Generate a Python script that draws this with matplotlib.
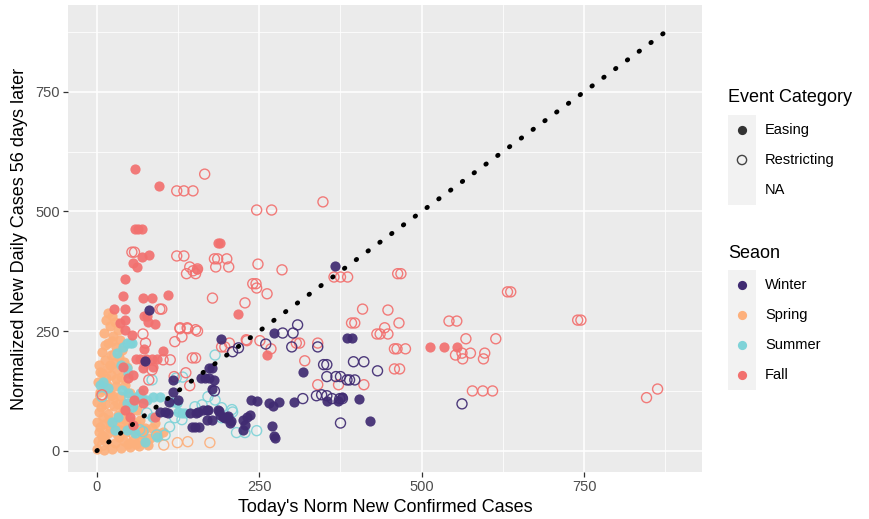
import numpy as np
import matplotlib
matplotlib.use("Agg")
import matplotlib.pyplot as plt
from matplotlib.patches import Rectangle

plt.rcParams['font.family'] = ['Liberation Sans', 'DejaVu Sans']

# (today's cases, cases 56 days later) per season / event category
spring_easing = [(17, 288), (23, 282), (14, 273), (28, 269), (20, 261), (32, 253), (11, 246), (25, 240),
                 (35, 232), (17, 225), (29, 217), (38, 211), (8, 207), (22, 200), (34, 196), (12, 190),
                 (26, 184), (42, 186), (3, 180), (17, 173), (31, 169), (46, 175), (8, 163), (22, 159),
                 (37, 154), (2, 144), (15, 138), (29, 136), (43, 138), (5, 123), (20, 119), (35, 115),
                 (51, 121), (0, 102), (12, 98), (26, 94), (40, 98), (55, 102), (3, 81), (17, 77),
                 (32, 75), (46, 81), (62, 86), (0, 60), (11, 56), (25, 54), (38, 58), (52, 63),
                 (66, 65), (3, 40), (17, 38), (31, 35), (45, 40), (58, 42), (72, 44), (85, 48),
                 (2, 21), (14, 19), (28, 17), (42, 21), (55, 23), (69, 25), (82, 27), (94, 31),
                 (0, 4), (11, 2), (23, 4), (37, 6), (51, 8), (65, 10), (78, 12), (102, 40),
                 (89, 58), (74, 48), (92, 38), (5, 50), (9, 71), (6, 92), (23, 117), (14, 152),
                 (32, 98), (18, 65), (35, 44), (9, 29), (48, 15), (8, 30), (20, 48), (34, 28),
                 (48, 52), (60, 55), (40, 85), (25, 108), (10, 130), (30, 150), (20, 180), (12, 220),
                 (24, 230), (5, 165), (45, 65), (60, 15), (70, 35)]
spring_restricting = [(6, 115), (20, 96), (38, 69), (11, 27), (58, 31), (9, 12), (103, 12), (124, 17),
                      (140, 19), (174, 17), (45, 150), (28, 200)]
summer_easing = [(46, 225), (54, 225), (51, 225), (40, 217), (31, 205), (37, 180), (46, 173), (9, 144),
                 (5, 138), (38, 127), (48, 121), (62, 113), (69, 111), (77, 106), (46, 100), (54, 92),
                 (32, 71), (23, 60), (28, 44), (46, 44), (58, 38), (85, 71), (92, 29), (74, 19),
                 (48, 163), (66, 121), (86, 113), (97, 113), (123, 100), (131, 79), (135, 79), (125, 81),
                 (115, 102), (17, 131)]
summer_restricting = [(85, 148), (122, 152), (132, 154), (151, 92), (171, 113), (182, 106), (209, 81),
                      (215, 38), (228, 38), (246, 42), (182, 200), (120, 69), (105, 33), (92, 33),
                      (112, 50), (51, 111), (55, 92), (77, 79), (66, 44), (71, 40), (8, 113), (131, 65),
                      (192, 69), (162, 96), (192, 90), (208, 86)]
fall_easing = [(58, 589), (95, 553), (58, 463), (63, 463), (69, 463), (69, 405), (80, 409), (55, 392),
               (62, 384), (154, 380), (43, 359), (40, 324), (71, 319), (85, 319), (109, 326), (26, 296),
               (43, 296), (72, 282), (78, 269), (89, 265), (35, 267), (43, 273), (186, 434), (190, 434),
               (217, 286), (512, 217), (534, 217), (555, 217), (262, 200), (43, 252), (54, 242),
               (72, 213), (60, 192), (66, 192), (75, 192), (85, 192), (92, 192), (102, 209), (40, 175),
               (56, 159), (71, 173), (86, 175), (71, 127), (57, 106), (89, 71), (56, 54), (48, 152),
               (43, 86), (71, 100), (51, 71), (77, 282)]
fall_restricting = [(166, 578), (123, 543), (134, 543), (148, 543), (54, 415), (58, 415), (123, 407),
                    (134, 407), (138, 370), (143, 384), (148, 376), (152, 370), (155, 380), (181, 401),
                    (186, 401), (200, 401), (183, 384), (203, 384), (178, 319), (97, 296), (100, 296),
                    (128, 257), (139, 257), (246, 503), (269, 503), (348, 520), (248, 390), (285, 378),
                    (240, 349), (245, 349), (246, 340), (262, 328), (228, 309), (365, 363), (375, 363),
                    (386, 363), (463, 370), (468, 370), (409, 296), (448, 294), (392, 267), (397, 267),
                    (465, 267), (443, 257), (632, 332), (637, 332), (542, 271), (554, 271), (740, 273),
                    (745, 273), (431, 244), (436, 244), (448, 244), (312, 225), (340, 225), (458, 213),
                    (462, 213), (475, 213), (568, 234), (614, 234), (552, 200), (562, 204), (563, 192),
                    (575, 204), (597, 204), (595, 192), (320, 188), (458, 171), (466, 171), (340, 138),
                    (372, 138), (411, 138), (578, 125), (594, 125), (609, 125), (846, 111), (863, 129),
                    (71, 244), (75, 225), (120, 228), (131, 238), (128, 255), (140, 255), (155, 250),
                    (102, 190), (113, 190), (147, 194), (152, 194), (137, 163), (143, 136), (80, 148),
                    (119, 155), (192, 217), (197, 217), (204, 225), (230, 232), (268, 213), (307, 225),
                    (231, 230), (251, 230), (8, 117), (85, 169), (152, 253)]
winter_easing = [(80, 294), (74, 188), (191, 234), (272, 246), (366, 386), (172, 173), (178, 173),
                 (161, 152), (166, 152), (172, 152), (178, 129), (318, 165), (385, 236), (392, 236),
                 (238, 106), (246, 104), (265, 100), (271, 94), (280, 102), (303, 102), (355, 104),
                 (371, 104), (378, 113), (152, 79), (169, 86), (188, 84), (194, 71), (202, 73),
                 (206, 63), (147, 50), (158, 50), (170, 65), (177, 65), (225, 65), (231, 71), (235, 75),
                 (228, 54), (225, 44), (269, 52), (272, 31), (274, 27), (403, 109), (420, 63),
                 (117, 148), (117, 123), (111, 102), (97, 81), (105, 81), (109, 79), (143, 79),
                 (155, 81), (151, 50), (163, 86), (171, 86), (189, 75), (197, 69), (181, 148),
                 (186, 86), (200, 71), (205, 59), (125, 106)]
winter_restricting = [(286, 246), (302, 246), (309, 263), (260, 223), (209, 207), (218, 215), (300, 217),
                      (340, 217), (317, 109), (338, 115), (346, 117), (354, 115), (362, 109), (374, 109),
                      (378, 109), (349, 180), (354, 180), (354, 155), (368, 155), (375, 155), (385, 148),
                      (389, 148), (397, 148), (375, 58), (181, 125), (395, 186), (411, 186), (432, 167),
                      (562, 98)]

seasons = ["Winter", "Spring", "Summer", "Fall"]
season_colors = {"Winter": "#402B72", "Spring": "#FDB07C", "Summer": "#7FD3D8", "Fall": "#F2716F"}
event_labels = ["Easing", "Restricting", "NA"]
diag_end = 872

fig = plt.figure(figsize=(8.7, 5.19), dpi=100)
ax = fig.add_axes([68 / 870, 1 - 472 / 519, 634 / 870, 467 / 519])
ax.set_facecolor("#EBEBEB")
for s in ax.spines.values():
    s.set_visible(False)

lims = (-44.35, 931.35)
ax.set_xlim(lims)
ax.set_ylim(lims)
ticks = [0, 250, 500, 750]
ax.set_xticks(ticks)
ax.set_yticks(ticks)
ax.set_xticks([125, 375, 625, 875], minor=True)
ax.set_yticks([125, 375, 625, 875], minor=True)
ax.grid(which="major", color="white", lw=1.1)
ax.grid(which="minor", color="white", lw=0.55)
ax.set_axisbelow(True)
ax.tick_params(which="major", length=3.5, width=0.9, color="#333333", labelcolor="#4D4D4D",
               labelsize=10.5, pad=2.5)
ax.tick_params(which="minor", length=0)

groups = [
    (spring_easing, "Spring", True), (spring_restricting, "Spring", False),
    (summer_easing, "Summer", True), (summer_restricting, "Summer", False),
    (fall_easing, "Fall", True), (fall_restricting, "Fall", False),
    (winter_easing, "Winter", True), (winter_restricting, "Winter", False),
]
for pts, season, filled in groups:
    arr = np.array(pts, dtype=float)
    c = season_colors[season]
    if filled:
        ax.scatter(arr[:, 0], arr[:, 1], s=54, color=c, alpha=0.92, linewidths=0, zorder=3)
    else:
        ax.scatter(arr[:, 0], arr[:, 1], s=52, facecolors="none", edgecolors=c, alpha=0.92,
                   linewidths=1.0, zorder=3)

# y = x reference line
ax.plot([0, diag_end], [0, diag_end], color="black", lw=3.4, ls=(0, (0.15, 2.95)),
        dash_capstyle="round", zorder=4)

ax.set_xlabel("Today's Norm New Confirmed Cases", fontsize=13, color="black", labelpad=3)
ax.set_ylabel("Normalized New Daily Cases 56 days later", fontsize=13, color="black", labelpad=5)

# legends, laid out in pixel units
lg = fig.add_axes([0, 0, 1, 1], facecolor="none")
lg.set_xlim(0, 870)
lg.set_ylim(519, 0)
lg.axis("off")

lg.text(728, 98, "Event Category", fontsize=13, va="center", ha="left")
lg.add_patch(Rectangle((728, 115), 28, 90, color="#F2F2F2", lw=0))
for i, lab in enumerate(event_labels):
    yk = 130 + 30 * i
    if lab == "Easing":
        lg.scatter([742], [yk], s=44, color="#333333", linewidths=0)
    elif lab == "Restricting":
        lg.scatter([742], [yk], s=44, facecolors="none", edgecolors="#444444", linewidths=1.0)
    lg.text(765, yk, lab, fontsize=10.5, va="center", ha="left")

lg.text(728, 253, "Seaon", fontsize=13, va="center", ha="left")
lg.add_patch(Rectangle((728, 270), 28, 120, color="#F2F2F2", lw=0))
for i, season in enumerate(seasons):
    yk = 285 + 30 * i
    lg.scatter([742], [yk], s=44, color=season_colors[season], linewidths=0)
    lg.text(765, yk, season, fontsize=10.5, va="center", ha="left")

fig.savefig("out.png", dpi=100)
